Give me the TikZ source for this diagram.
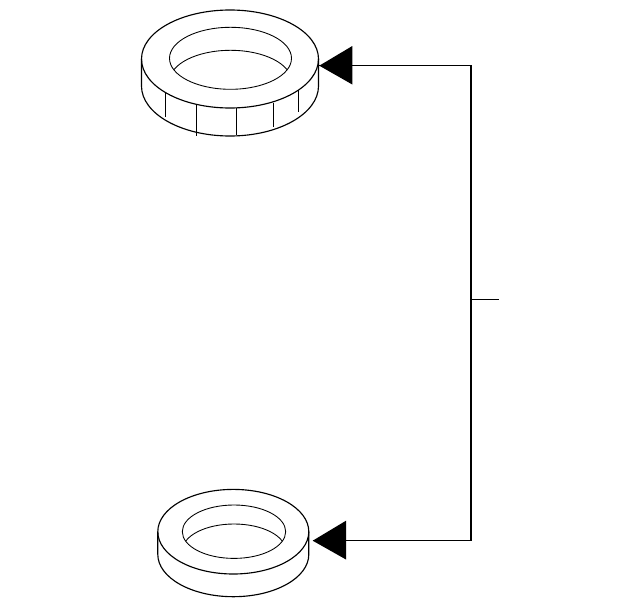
\documentclass[tikz,border=0pt]{standalone}
\tikzset{
  ringline/.style={draw=black,line width=0.85pt},
  thinline/.style={draw=black,line width=0.65pt},
  leader/.style={draw=black,line width=0.9pt},
}
\begin{document}
\begin{tikzpicture}[x=0.75pt,y=-0.75pt]
\useasboundingbox (0,0) rectangle (640,607);
% top ring
\draw[ringline] (230,59) ellipse [x radius=88.5,y radius=49];
\draw[ringline] (141.5,59) -- (141.5,86) arc[start angle=180,end angle=0,x radius=88.5,y radius=50] -- (318.5,59);
\draw[thinline] (230.5,58.3) ellipse [x radius=61,y radius=31];
\begin{scope}
  \clip (230.5,58.3) ellipse [x radius=61,y radius=31];
  \draw[thinline] (230.5,81.3) ellipse [x radius=61,y radius=31];
\end{scope}
\foreach \xa/\ya/\yb in {165.3/92.7/116.7,196/105.3/135.7,236.3/108.3/135,273.3/102.7/126.7,298.3/90/111.7}
  \draw[thinline] (\xa,\ya) -- (\xa,\yb);
% bottom ring
\draw[ringline] (233.3,531.7) ellipse [x radius=75.5,y radius=42.3];
\draw[ringline] (157.8,531.7) -- (157.8,554.4) arc[start angle=180,end angle=0,x radius=75.5,y radius=42.3] -- (308.8,531.7);
\draw[thinline] (234,531.7) ellipse [x radius=51.7,y radius=26.7];
\begin{scope}
  \clip (234,531.7) ellipse [x radius=51.7,y radius=26.7];
  \draw[thinline] (234,550.7) ellipse [x radius=51.7,y radius=26.7];
\end{scope}
% connectors
\coordinate (tipTop) at (319.3,65.7);
\coordinate (tipBottom) at (312.7,540.7);
\coordinate (cornerTop) at (471,65.7);
\coordinate (cornerBottom) at (471,540.7);
\coordinate (junction) at (471,299.3);
\coordinate (stubEnd) at (499,299.3);
\draw[leader] (tipTop) -- (cornerTop) -- (cornerBottom) -- (tipBottom);
\draw[leader] (junction) -- (stubEnd);
\fill[black] (tipTop) -- (352.3,46) -- (352.3,84.5) -- cycle;
\fill[black] (tipBottom) -- (346,520.7) -- (346,559.5) -- cycle;
\end{tikzpicture}
\end{document}
